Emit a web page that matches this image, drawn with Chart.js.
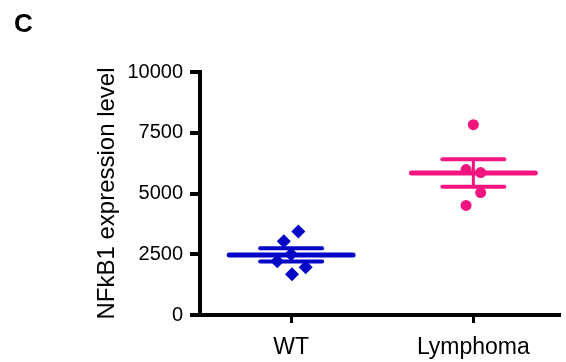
<!DOCTYPE html>
<html>
<head>
<meta charset="utf-8">
<script src="https://cdn.jsdelivr.net/npm/chart.js@4.4.1/dist/chart.umd.min.js"></script>
<style>
  html, body { margin: 0; padding: 0; background: #fff; }
  #wrap { width: 566px; height: 362px; }
</style>
</head>
<body>
<div id="wrap"><canvas id="chart" width="566" height="362"></canvas></div>
<script>
// groups and their values
const groups = ['WT', 'Lymphoma'];
const wtValues = [3440, 3030, 2500, 2210, 1970, 1680];
const wtJitter = [0.04, -0.04, 0.0, -0.076, 0.08, 0.005];
const lymphValues = [7830, 5985, 5860, 5040, 4510];
const lymphJitter = [0.0, -0.04, 0.04, 0.04, -0.04];
const yTicks = [0, 2500, 5000, 7500, 10000];

const blue = '#0606c6';
const pink = '#f2157f';
const font = '"Liberation Sans", Arial, sans-serif';

function mean(arr) {
    return arr.reduce((a, b) => a + b, 0) / arr.length;
}
function sem(arr) {
    const m = mean(arr);
    const v = arr.reduce((a, b) => a + (b - m) * (b - m), 0) / (arr.length - 1);
    return Math.sqrt(v / arr.length);
}

function pointsFor(values, jitter, xPos) {
    return values.map((v, i) => ({ x: xPos + jitter[i], y: v }));
}

// mean line + SEM bar datasets for one group
function summaryDatasets(values, xPos, color) {
    const m = mean(values);
    const s = sem(values);
    const base = {
        type: 'line',
        borderColor: color,
        pointRadius: 0,
        borderCapStyle: 'round',
        fill: false,
        order: 0,
        clip: false
    };
    return [
        Object.assign({}, base, { data: [{ x: xPos - 0.34, y: m }, { x: xPos + 0.34, y: m }], borderWidth: 5 }),
        Object.assign({}, base, { data: [{ x: xPos - 0.17, y: m + s }, { x: xPos + 0.17, y: m + s }], borderWidth: 4 }),
        Object.assign({}, base, { data: [{ x: xPos - 0.17, y: m - s }, { x: xPos + 0.17, y: m - s }], borderWidth: 4 }),
        Object.assign({}, base, { data: [{ x: xPos, y: m - s }, { x: xPos, y: m + s }], borderWidth: 3 })
    ];
}

const panelLetter = {
    id: 'panelLetter',
    afterDraw(chart) {
        const ctx = chart.ctx;
        ctx.save();
        ctx.fillStyle = '#000';
        ctx.font = 'bold 26px ' + font;
        ctx.textBaseline = 'alphabetic';
        ctx.fillText('C', 14, 32);
        ctx.restore();
    }
};

const datasets = [
    ...summaryDatasets(wtValues, 0, blue),
    ...summaryDatasets(lymphValues, 1, pink),
    {
        type: 'scatter',
        data: pointsFor(wtValues, wtJitter, 0),
        pointStyle: 'rectRot',
        pointRadius: 7,
        backgroundColor: blue,
        borderColor: blue,
        borderWidth: 0,
        order: 1,
        clip: false
    },
    {
        type: 'scatter',
        data: pointsFor(lymphValues, lymphJitter, 1),
        pointStyle: 'circle',
        pointRadius: 5.5,
        backgroundColor: pink,
        borderColor: pink,
        borderWidth: 0,
        order: 1,
        clip: false
    }
];

new Chart(document.getElementById('chart'), {
    type: 'scatter',
    data: { datasets: datasets },
    plugins: [panelLetter],
    options: {
        responsive: false,
        animation: false,
        layout: { padding: { left: 93, top: 72, right: 0, bottom: 0 } },
        plugins: {
            legend: { display: false },
            tooltip: { enabled: false }
        },
        scales: {
            x: {
                type: 'linear',
                min: -0.5,
                max: 1.47,
                afterFit: scale => { scale.height = 47; },
                afterBuildTicks: scale => {
                    scale.ticks = groups.map((g, i) => ({ value: i }));
                },
                ticks: {
                    color: '#000',
                    padding: 11,
                    font: { family: font, size: 23 },
                    callback: value => groups[value]
                },
                grid: {
                    drawOnChartArea: false,
                    drawTicks: true,
                    tickLength: 8,
                    lineWidth: 3,
                    color: '#000'
                },
                border: { display: true, width: 4, color: '#000' }
            },
            y: {
                min: 0,
                max: 10000,
                afterFit: scale => { scale.width = 107; },
                afterBuildTicks: scale => {
                    scale.ticks = yTicks.map(v => ({ value: v }));
                },
                ticks: {
                    color: '#000',
                    padding: 7,
                    font: { family: font, size: 20 },
                    callback: value => String(value)
                },
                grid: {
                    drawOnChartArea: false,
                    drawTicks: true,
                    tickLength: 10,
                    lineWidth: 4,
                    color: '#000'
                },
                border: { display: true, width: 4, color: '#000' },
                title: {
                    display: true,
                    text: 'NFkB1 expression level',
                    color: '#000',
                    padding: { top: 0, bottom: 0 },
                    font: { family: font, size: 24 }
                }
            }
        }
    }
});
</script>
</body>
</html>
